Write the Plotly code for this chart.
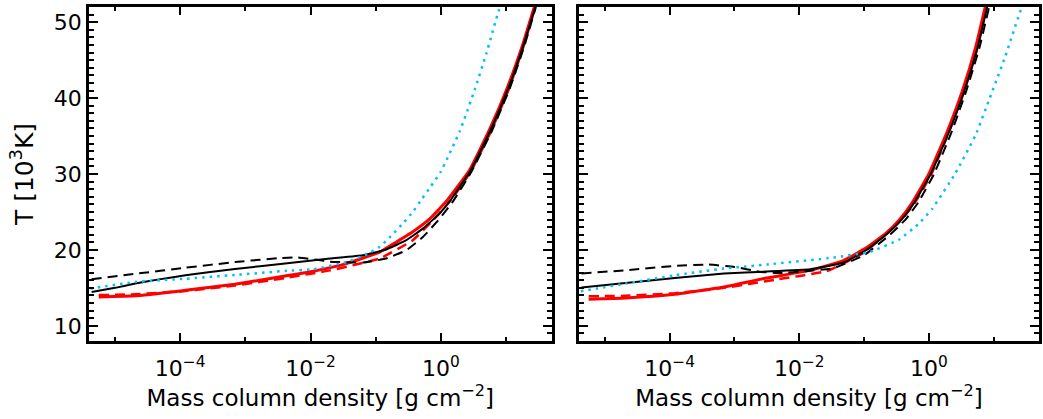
import plotly.graph_objects as go

# ---------------- data (x given as log10 of mass column density, T in 10^3 K) -------------
# Left panel
L_red_solid_logm = [-5.25, -4.69, -3.92, -3.16, -2.39, -1.96, -1.45, -0.94, -0.68, -0.43, -0.17, 0.10, 0.44, 0.746, 1.027, 1.256, 1.435]
L_red_solid_T = [13.8, 13.95, 14.68, 15.47, 16.57, 17.2, 18.2, 19.7, 21.05, 22.4, 24.1, 26.56, 30.5, 35.8, 41.5, 47.0, 52.0]

L_red_dash_logm = [-5.25, -4.69, -3.92, -3.16, -2.39, -1.70, -0.94, -0.43, -0.12, 0.15, 0.46, 0.77, 1.05, 1.27, 1.45]
L_red_dash_T = [14.05, 14.15, 14.6, 15.3, 16.3, 17.3, 18.86, 21.28, 23.9, 26.5, 30.3, 35.6, 41.3, 46.8, 52.0]

L_black_solid_logm = [-5.36, -5.0, -4.69, -4.3, -3.92, -3.16, -2.39, -1.70, -1.19, -0.84, -0.53, -0.275, -0.02, 0.15, 0.46, 0.765, 1.045, 1.27, 1.45]
L_black_solid_T = [14.46, 15.0, 15.57, 16.15, 16.66, 17.5, 18.2, 18.86, 19.3, 20.05, 21.28, 22.8, 24.8, 26.56, 30.5, 35.8, 41.5, 47.0, 52.0]

L_black_dash_logm = [-5.36, -4.69, -3.92, -3.16, -2.5, -2.2, -1.9, -1.70, -1.19, -0.84, -0.53, -0.275, -0.02, 0.18, 0.47, 0.78, 1.06, 1.28, 1.46]
L_black_dash_T = [16.13, 16.85, 17.65, 18.4, 18.9, 19.0, 18.7, 18.45, 18.35, 18.86, 19.96, 21.7, 24.1, 26.3, 30.3, 35.6, 41.3, 46.8, 52.0]

L_blue_dot_logm = [-5.38, -4.69, -3.92, -3.16, -2.39, -1.96, -1.45, -1.12, -0.94, -0.79, -0.58, -0.43, -0.30, -0.15, 0.0, 0.29, 0.52, 0.70, 0.884, 0.91]
L_blue_dot_T = [14.9, 15.78, 16.2, 16.7, 17.23, 17.45, 18.4, 19.5, 20.4, 21.6, 23.5, 25.0, 26.6, 28.4, 30.3, 35.6, 41.07, 45.9, 51.4, 52.0]

# Right panel
R_red_solid_logm = [-5.25, -4.68, -3.92, -3.16, -2.50, -1.83, -1.32, -0.96, -0.66, -0.45, -0.25, 0.0, 0.28, 0.52, 0.72, 0.87]
R_red_solid_T = [13.5, 13.67, 14.16, 15.12, 16.3, 17.3, 18.6, 20.3, 22.2, 24.0, 26.3, 30.0, 35.5, 41.0, 46.6, 52.0]

R_red_dash_logm = [-5.25, -4.68, -3.92, -3.16, -2.35, -1.58, -1.01, -0.60, -0.40, -0.20, 0.04, 0.31, 0.55, 0.75, 0.89]
R_red_dash_T = [13.9, 13.95, 14.3, 15.0, 16.1, 17.2, 19.6, 22.5, 24.2, 26.4, 30.0, 35.5, 41.0, 46.6, 52.0]

R_black_solid_logm = [-5.36, -4.68, -3.92, -3.16, -2.50, -1.83, -1.32, -0.96, -0.66, -0.42, -0.22, 0.03, 0.31, 0.55, 0.75, 0.90]
R_black_solid_T = [15.04, 15.65, 16.3, 16.9, 17.15, 17.45, 18.3, 20.0, 22.0, 24.0, 26.3, 30.0, 35.5, 41.0, 46.6, 52.0]

R_black_dash_logm = [-5.36, -4.68, -3.92, -3.41, -3.0, -2.59, -2.29, -1.9, -1.47, -1.0, -0.60, -0.36, -0.16, 0.08, 0.35, 0.58, 0.78, 0.93]
R_black_dash_T = [16.89, 17.32, 17.9, 18.07, 17.76, 17.1, 16.95, 17.2, 17.6, 19.3, 22.0, 24.0, 26.3, 30.0, 35.5, 41.0, 46.6, 52.0]

R_blue_dot_logm = [-5.37, -4.68, -3.92, -3.16, -2.50, -1.47, -0.91, -0.45, -0.15, 0.05, 0.41, 0.72, 0.94, 1.18, 1.42, 1.46]
R_blue_dot_T = [14.55, 15.57, 16.66, 17.55, 18.07, 19.0, 19.74, 21.4, 23.5, 25.4, 30.1, 35.1, 40.0, 45.5, 51.6, 52.1]

x_tick_vals = [1e-4, 1e-2, 1e0]
x_tick_text = ["10<sup>\u22124</sup>", "10<sup>\u22122</sup>", "10<sup>0</sup>"]
x_minor_vals = [1e-5, 1e-3, 1e-1, 1e1]
x_title = "Mass column density [g cm<sup>\u22122</sup>]"
y_title = "T [10<sup>3</sup>K]"

FONT = "DejaVu Sans"
BLACK = "#000000"
RED = "#ff0000"
BLUE = "#00bfff"

fig = go.Figure()


def add(logm, T, color, width, dash, xa, ya):
    fig.add_trace(go.Scatter(
        x=[10 ** v for v in logm], y=T, mode="lines",
        line=dict(color=color, width=width, dash=dash, shape="spline", smoothing=0.35),
        xaxis=xa, yaxis=ya, showlegend=False, hoverinfo="skip"))


for xa, ya, P in (("x", "y", "L"), ("x2", "y2", "R")):
    g = globals()
    add(g[P + "_red_solid_logm"], g[P + "_red_solid_T"], RED, 3, "solid", xa, ya)
    add(g[P + "_red_dash_logm"], g[P + "_red_dash_T"], RED, 2.5, "10px,6px", xa, ya)
    add(g[P + "_black_solid_logm"], g[P + "_black_solid_T"], BLACK, 2, "solid", xa, ya)
    add(g[P + "_black_dash_logm"], g[P + "_black_dash_T"], BLACK, 2, "10px,6px", xa, ya)
    add(g[P + "_blue_dot_logm"], g[P + "_blue_dot_T"], BLUE, 2.5, "2.5px,5px", xa, ya)

xcommon = dict(
    type="log", range=[-5.4, 1.7], showline=True, linewidth=2.5, linecolor=BLACK,
    mirror="allticks", ticks="inside", ticklen=8, tickwidth=2, tickcolor=BLACK,
    tickvals=x_tick_vals, ticktext=x_tick_text, showgrid=False, zeroline=False,
    minor=dict(tickvals=x_minor_vals, ticks="inside", ticklen=4, tickwidth=2, tickcolor=BLACK, showgrid=False),
    tickfont=dict(family=FONT, size=22, color=BLACK), ticklabelstandoff=6,
    title=dict(text=x_title, font=dict(family=FONT, size=23, color=BLACK), standoff=10),
)
ycommon = dict(
    range=[8, 52], showline=True, linewidth=2.5, linecolor=BLACK,
    mirror="allticks", ticks="inside", ticklen=9, tickwidth=2, tickcolor=BLACK,
    tick0=10, dtick=10, showgrid=False, zeroline=False,
    minor=dict(dtick=1, ticks="inside", ticklen=5, tickwidth=2, tickcolor=BLACK, showgrid=False),
    tickfont=dict(family=FONT, size=22, color=BLACK),
)

fig.update_layout(
    width=1043, height=419,
    margin=dict(l=89, r=1, t=7, b=78),
    paper_bgcolor="white", plot_bgcolor="white",
    font=dict(family=FONT, size=22, color=BLACK),
    xaxis=dict(xcommon, domain=[0, 0.4869], anchor="y"),
    xaxis2=dict(xcommon, domain=[0.5157, 1], anchor="y2"),
    yaxis=dict(ycommon, anchor="x", title=dict(text=y_title, font=dict(family=FONT, size=25, color=BLACK), standoff=14)),
    yaxis2=dict(ycommon, anchor="x2", showticklabels=False),
)

fig.write_html("out.html")
